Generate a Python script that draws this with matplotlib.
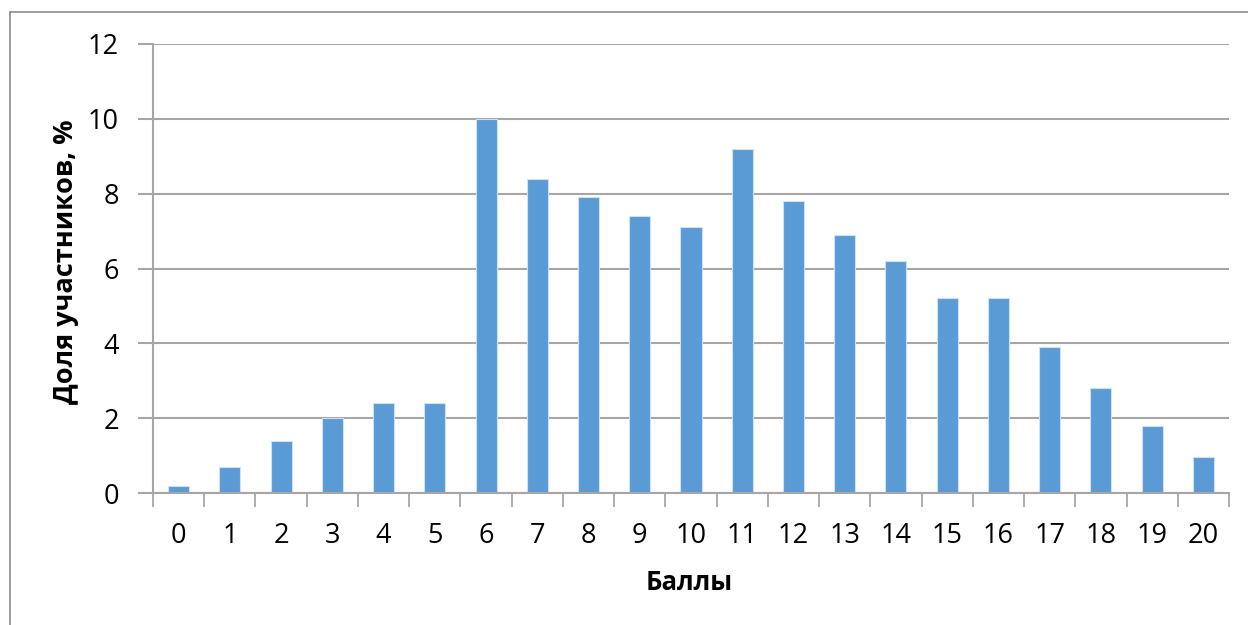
import matplotlib
matplotlib.use("Agg")
import matplotlib.pyplot as plt
from matplotlib.lines import Line2D
import numpy as np

plt.rcParams['font.family'] = ['Open Sans', 'DejaVu Sans']

scores = list(range(0, 21))
score_labels = [str(s) for s in scores]
shares = [0.2, 0.7, 1.4, 2.0, 2.4, 2.4, 10.0, 8.4, 7.9, 7.4, 7.1,
          9.2, 7.8, 6.9, 6.2, 5.2, 5.2, 3.9, 2.8, 1.8, 0.95]
y_ticks = [0, 2, 4, 6, 8, 10, 12]

W, H = 1248, 625
fig = plt.figure(figsize=(W / 100, H / 100), dpi=100)
ax = fig.add_axes([153 / W, 1 - 493 / H, (1229 - 153) / W, (493 - 44) / H])

grid_c = '#a6a6a6'
x = np.arange(len(scores))
ax.bar(x, shares, width=0.41, color='#5b9bd5', edgecolor='#cfe0f2',
       linewidth=0.8, zorder=3)

ax.set_xlim(-0.5, len(scores) - 0.5)
ax.set_ylim(0, 12)
ax.set_yticks(y_ticks)
ax.set_yticklabels([str(t) for t in y_ticks])
ax.yaxis.grid(True, color=grid_c, linewidth=1.5, zorder=0)

ax.set_xticks(x)
ax.set_xticklabels(score_labels)
ax.set_xticks(np.arange(-0.5, len(scores), 1.0), minor=True)
ax.tick_params(axis='x', which='major', length=0, pad=21, labelsize=19.5,
               colors='black')
ax.tick_params(axis='x', which='minor', length=10, width=1.3, color=grid_c,
               direction='out')
ax.tick_params(axis='y', which='major', length=11, width=1.5, color=grid_c,
               pad=13.5, labelsize=19.5, labelcolor='black')

for s in ['top', 'right']:
    ax.spines[s].set_visible(False)
for s in ['left', 'bottom']:
    ax.spines[s].set_color(grid_c)
    ax.spines[s].set_linewidth(1.5)
ax.spines['bottom'].set_zorder(4)

fig.text(689 / W, 1 - 582 / H, 'Баллы', ha='center', va='center',
         fontsize=18.5, fontweight='bold')
fig.text(66 / W, 1 - 262 / H, 'Доля участников, %', ha='center',
         va='center', rotation=90, fontsize=19.5, fontweight='bold')

# outer chart border (top and left visible)
fig.add_artist(Line2D([10 / W, 1.0], [1 - 12 / H, 1 - 12 / H],
                      transform=fig.transFigure, color='#8c8c8c', linewidth=1.2))
fig.add_artist(Line2D([10 / W, 10 / W], [0.0, 1 - 12 / H],
                      transform=fig.transFigure, color='#8c8c8c', linewidth=1.2))

fig.savefig('out.png', dpi=100, facecolor='white')
